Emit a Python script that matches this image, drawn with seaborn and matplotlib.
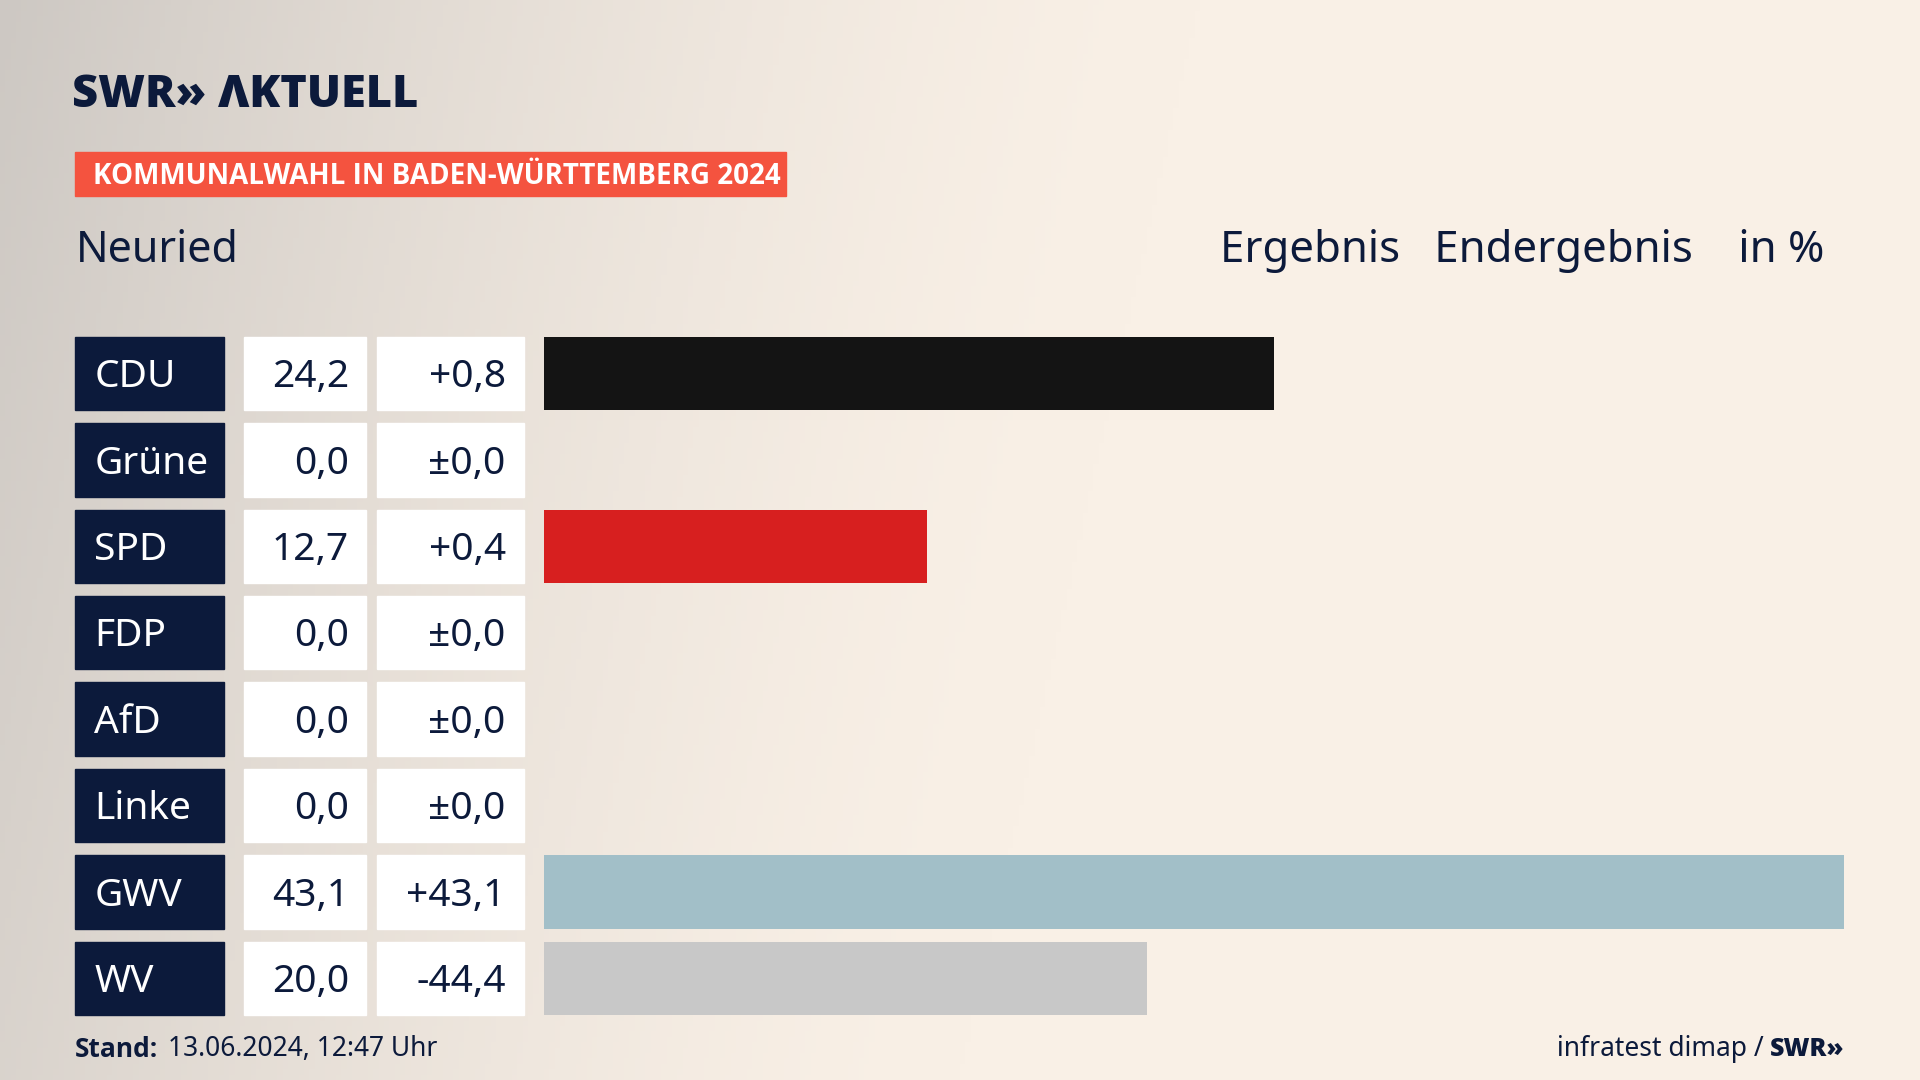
import numpy as np
import pandas as pd
import matplotlib
matplotlib.use("Agg")
import matplotlib.pyplot as plt
from matplotlib.patches import Rectangle
import seaborn as sns

parties = ["CDU", "Grüne", "SPD", "FDP", "AfD", "Linke", "GWV", "WV"]
results = [24.2, 0.0, 12.7, 0.0, 0.0, 0.0, 43.1, 20.0]
changes = ["+0,8", "±0,0", "+0,4", "±0,0", "±0,0", "±0,0", "+43,1", "-44,4"]
colors = ["#141414", "#4a9a3a", "#d71f1f", "#f3d200", "#1e9ee0", "#be3075", "#a2bfc8", "#c8c8c8"]

W, H = 1568, 882
NAVY = "#0c1a3b"
FONT = "Noto Sans"
BOLD = "Open Sans"

fig = plt.figure(figsize=(19.2, 10.8), dpi=100)
bg = fig.add_axes([0, 0, 1, 1])
yy, xx = np.mgrid[0:1:200j, 0:1:360j]
g = np.clip(1 - (xx * 1.6 + (1 - yy) * 0.2), 0, 1) ** 1.5
base = np.array([249, 240, 230]) / 255
dark = np.array([205, 200, 195]) / 255
img = base[None, None, :] * (1 - g[..., None]) + dark[None, None, :] * g[..., None]
bg.imshow(img, aspect="auto", extent=[0, 1, 0, 1], origin="lower")
bg.set_axis_off()

def fx(px): return px / W
def fy(py): return 1 - py / H

fig.text(fx(59), fy(78), "SWR» ΛKTUELL", fontsize=32.5, fontweight="heavy", color=NAVY,
         va="center", ha="left", family=BOLD)
fig.patches.append(Rectangle((fx(61), fy(160)), fx(642 - 61), 36 / H, transform=fig.transFigure,
                             color="#f4533f", zorder=1))
fig.text(fx(76), fy(144), "KOMMUNALWAHL IN BADEN-WÜRTTEMBERG 2024", fontsize=20, fontweight="bold",
         color="white", va="center", ha="left", family=BOLD)
fig.text(fx(62), fy(205), "Neuried", fontsize=31, color=NAVY, va="center", family=FONT)
fig.text(fx(1490), fy(205), "Ergebnis   Endergebnis    in %", fontsize=31.5, color=NAVY,
         va="center", ha="right", family=FONT)

top, pitch, n = 269.7, 70.57, len(parties)
ax = fig.add_axes([fx(444), fy(top + pitch * n), fx(1506 - 444), pitch * n / H])
df = pd.DataFrame({"party": parties, "result": results})
sns.barplot(data=df, x="result", y="party", hue="party", palette=colors, legend=False,
            width=60 / pitch, ax=ax, saturation=1)
ax.set_xlim(0, max(results))
ax.set_ylim(n - 0.5, -0.5)
ax.set_axis_off()

for i, (p, r, c) in enumerate(zip(parties, results, changes)):
    cy = top + pitch * (i + 0.5)
    y0 = fy(cy + 30)
    hh = 60 / H
    fig.patches.append(Rectangle((fx(61), y0), fx(122), hh, transform=fig.transFigure, color=NAVY))
    fig.patches.append(Rectangle((fx(199), y0), fx(100), hh, transform=fig.transFigure, color="white"))
    fig.patches.append(Rectangle((fx(308), y0), fx(120), hh, transform=fig.transFigure, color="white"))
    ty = fy(cy + 3)
    fig.text(fx(77), ty, p, fontsize=28, color="white", va="center", ha="left", family=FONT)
    fig.text(fx(285), ty, f"{r:.1f}".replace(".", ","), fontsize=28, color=NAVY,
             va="center", ha="right", family=FONT)
    fig.text(fx(413), ty, c, fontsize=28, color=NAVY, va="center", ha="right", family=FONT)

fig.text(fx(61), fy(857), "Stand:", fontsize=19, fontweight="bold", color=NAVY,
         va="center", family=BOLD)
fig.text(fx(137), fy(857), "13.06.2024, 12:47 Uhr", fontsize=19, color=NAVY,
         va="center", family=FONT)
fig.text(fx(1440), fy(857), "infratest dimap /", fontsize=19, color=NAVY,
         va="center", ha="right", family=FONT)
fig.text(fx(1506), fy(857), "SWR»", fontsize=18, fontweight="heavy", color=NAVY,
         va="center", ha="right", family=BOLD)

fig.savefig("out.png", dpi=100)
